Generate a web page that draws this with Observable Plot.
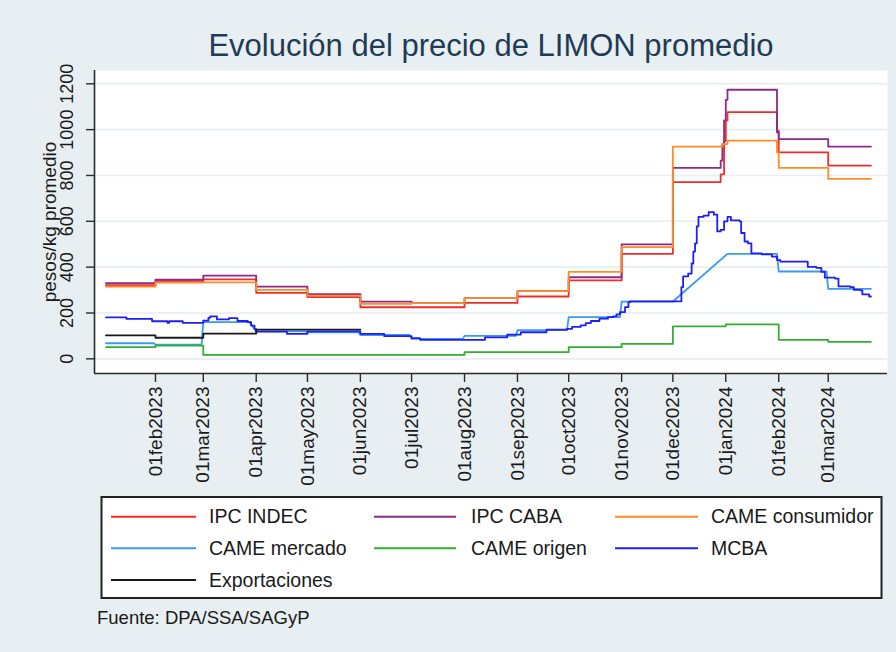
<!DOCTYPE html>
<html><head><meta charset="utf-8">
<script src="https://cdn.jsdelivr.net/npm/d3@7"></script>
<script src="https://cdn.jsdelivr.net/npm/@observablehq/plot@0.6"></script>
<style>
html,body{margin:0;padding:0;background:#e8eff2;}
#wrap{position:relative;width:896px;height:652px;background:#e8eff2;font-family:"Liberation Sans",Arial,sans-serif;overflow:hidden}
#chart{position:absolute;left:0;top:0}
#legend{position:absolute;left:0;top:0}
</style></head><body><div id="wrap"><div id="chart"></div><svg id="legend" width="896" height="652"></svg></div>
<script>
const title = "Evolución del precio de LIMON promedio";
const yTitle = "pesos/kg promedio";
const caption = "Fuente: DPA/SSA/SAGyP";
const seriesNames = ["IPC INDEC","IPC CABA","CAME consumidor","CAME mercado","CAME origen","MCBA","Exportaciones"];
const seriesColors = ["#f22b2b","#8b2a8b","#ff8c24","#3a9af2","#30b030","#1f1ff5","#1a1a1a"];
const yTicks = [0,200,400,600,800,1000,1200];
const xTickDates = ["2023-02-01","2023-03-01","2023-04-01","2023-05-01","2023-06-01","2023-07-01","2023-08-01","2023-09-01","2023-10-01","2023-11-01","2023-12-01","2024-01-01","2024-02-01","2024-03-01"];
const xTickLabels = ["01feb2023","01mar2023","01apr2023","01may2023","01jun2023","01jul2023","01aug2023","01sep2023","01oct2023","01nov2023","01dec2023","01jan2024","01feb2024","01mar2024"];
const xDomain = ["2022-12-27T07:00Z","2024-04-04T17:00Z"];
const yDomain = [-64, 1258];

// step series: [date of change, value]
const ipcIndec = [["2023-01-03",322],["2023-02-01",339],["2023-03-01",347],["2023-04-01",288],["2023-05-01",269],["2023-06-01",225],["2023-08-01",244],["2023-09-01",272],["2023-10-01",342],["2023-11-01",458],["2023-12-01",771],["2023-12-29",805],["2023-12-31",950],["2024-01-01",1040],["2024-01-02",1076],["2024-01-31",996],["2024-02-01",901],["2024-03-01",843],["2024-03-26",843]];
const ipcCaba = [["2023-01-03",330],["2023-02-01",345],["2023-03-01",363],["2023-04-01",315],["2023-05-01",282],["2023-06-01",250],["2023-07-01",243],["2023-08-01",265],["2023-09-01",295],["2023-10-01",356],["2023-11-01",499],["2023-12-01",833],["2023-12-29",865],["2023-12-30",937],["2023-12-31",1040],["2024-01-01",1130],["2024-01-02",1174],["2024-01-31",988],["2024-02-01",959],["2024-03-01",926],["2024-03-26",926]];
const cameConsumidor = [["2023-01-03",315],["2023-02-01",333],["2023-03-01",334],["2023-04-01",301],["2023-05-01",276],["2023-06-01",240],["2023-07-01",243],["2023-08-01",265],["2023-09-01",295],["2023-10-01",379],["2023-11-01",487],["2023-12-01",926],["2023-12-30",937],["2024-01-02",952],["2024-01-31",901],["2024-02-01",833],["2024-03-01",785],["2024-03-26",785]];
// linear series: breakpoints
const cameMercado = [["2023-01-03",68],["2023-01-31",68],["2023-02-01",62],["2023-02-28",62],["2023-03-01",160],["2023-03-28",160],["2023-04-01",120],["2023-04-30",120],["2023-05-01",116],["2023-05-31",116],["2023-06-01",104],["2023-06-30",104],["2023-07-01",87],["2023-07-31",87],["2023-08-01",100],["2023-08-31",100],["2023-09-01",125],["2023-09-30",125],["2023-10-01",182],["2023-10-31",182],["2023-11-01",250],["2023-12-01",250],["2024-01-02",458],["2024-01-31",458],["2024-02-01",381],["2024-02-29",381],["2024-03-01",305],["2024-03-26",305]];
const cameOrigen = [["2023-01-03",51],["2023-02-01",58],["2023-03-01",17],["2023-08-01",29],["2023-10-01",51],["2023-11-01",65],["2023-12-01",142],["2024-01-01",150],["2024-02-01",83],["2024-03-01",74],["2024-03-26",74]];
const mcba = [["2023-01-03",181],["2023-01-15",174],["2023-01-30",164],["2023-02-08",157],["2023-02-09",164],["2023-02-17",157],["2023-03-01",167],["2023-03-04",179],["2023-03-05",185],["2023-03-09",172],["2023-03-16",178],["2023-03-21",165],["2023-03-27",160],["2023-03-29",145],["2023-03-31",130],["2023-04-01",119],["2023-04-19",109],["2023-05-01",120],["2023-06-01",109],["2023-06-15",99],["2023-07-01",90],["2023-07-06",83],["2023-08-13",94],["2023-08-26",106],["2023-09-03",116],["2023-09-18",127],["2023-09-30",131],["2023-10-03",139],["2023-10-08",146],["2023-10-11",156],["2023-10-14",165],["2023-10-19",175],["2023-10-24",182],["2023-10-27",185],["2023-10-29",194],["2023-10-31",204],["2023-11-03",226],["2023-11-05",248],["2023-11-06",251],["2023-12-06",313],["2023-12-07",360],["2023-12-10",372],["2023-12-12",416],["2023-12-13",468],["2023-12-14",504],["2023-12-15",578],["2023-12-16",619],["2023-12-19",625],["2023-12-22",640],["2023-12-25",629],["2023-12-27",556],["2023-12-29",563],["2023-12-31",600],["2024-01-02",619],["2024-01-04",604],["2024-01-09",600],["2024-01-10",549],["2024-01-12",512],["2024-01-14",504],["2024-01-16",460],["2024-01-22",456],["2024-01-28",446],["2024-01-31",431],["2024-02-02",424],["2024-02-18",401],["2024-02-23",397],["2024-02-26",379],["2024-02-28",354],["2024-03-05",350],["2024-03-07",316],["2024-03-14",313],["2024-03-16",301],["2024-03-20",299],["2024-03-21",281],["2024-03-25",272],["2024-03-26",272]];
const exportaciones = [["2023-01-03",102],["2023-02-01",92],["2023-03-01",110],["2023-04-01",127],["2023-06-01",127]];

const parse = s => new Date(s.length === 10 ? s + "T00:00Z" : s);
const seriesData = [ipcIndec, ipcCaba, cameConsumidor, cameMercado, cameOrigen, mcba, exportaciones];
const seriesCurves = ["step-after","step-after","step-after","linear","step-after","step-after","step-after"];
const font = "Liberation Sans, Arial, sans-serif";
const axisColor = "#2a2a2a";

const lineMarks = seriesData.map((data, i) => Plot.line(data, {
  x: d => parse(d[0]), y: d => d[1], stroke: seriesColors[i], strokeWidth: 1.8, curve: seriesCurves[i]
}));

const chart = Plot.plot({
  width: 896, height: 497,
  marginLeft: 94, marginRight: 9, marginTop: 70, marginBottom: 124,
  style: {background: "transparent", fontFamily: font, overflow: "visible"},
  x: {type: "utc", domain: xDomain.map(parse), axis: null},
  y: {domain: yDomain, axis: null},
  marks: [
    Plot.frame({fill: "white", stroke: null}),
    Plot.gridY(yTicks, {stroke: "#e6eef1", strokeOpacity: 1, strokeWidth: 1.6}),
    ...lineMarks,
    Plot.ruleX([parse(xDomain[0])], {stroke: axisColor, strokeWidth: 1.6}),
    Plot.ruleY([yDomain[0]], {stroke: axisColor, strokeWidth: 1.6}),
    Plot.axisY(yTicks, {tickSize: 8, tickFormat: () => "", label: null, stroke: axisColor, strokeWidth: 1.4}),
    Plot.axisX(xTickDates.map(parse), {tickSize: 9, tickFormat: () => "", label: null, stroke: axisColor, strokeWidth: 1.4}),
    Plot.text(yTicks, {frameAnchor: "left", y: d => d, text: d => String(d), rotate: -90, textAnchor: "middle", lineAnchor: "bottom", dx: -22, fontSize: 18, fill: "#1a1a1a"}),
    Plot.text(xTickDates, {frameAnchor: "bottom", x: d => parse(d), text: (d, i) => xTickLabels[i], rotate: -90, textAnchor: "end", lineAnchor: "middle", dy: 13, fontSize: 19, fill: "#1a1a1a"}),
    Plot.text([yTitle], {frameAnchor: "left", rotate: -90, textAnchor: "middle", lineAnchor: "bottom", dx: -39, fontSize: 19, fill: "#1a1a1a"}),
    Plot.text([title], {frameAnchor: "top", textAnchor: "middle", lineAnchor: "bottom", dy: -15, fontSize: 31, fill: "#1f3b55"})
  ]
});
document.getElementById("chart").appendChild(chart);

// legend + caption
const lg = d3.select("#legend");
lg.append("rect").attr("x", 101.5).attr("y", 497).attr("width", 780).attr("height", 101)
  .attr("fill", "white").attr("stroke", "#222").attr("stroke-width", 2);
const colLine = [[111, 196], [374, 456], [615, 698]];
const colText = [209, 471, 711];
const rowY = [516.7, 548.3, 580];
seriesNames.forEach((name, i) => {
  const c = i % 3, r = Math.floor(i / 3);
  lg.append("line").attr("x1", colLine[c][0]).attr("x2", colLine[c][1])
    .attr("y1", rowY[r]).attr("y2", rowY[r]).attr("stroke", seriesColors[i]).attr("stroke-width", 2);
  lg.append("text").attr("x", colText[c]).attr("y", rowY[r] + 6.5).text(name)
    .attr("font-family", font).attr("font-size", 19.5).attr("fill", "#1a1a1a");
});
lg.append("text").attr("x", 97).attr("y", 624).text(caption)
  .attr("font-family", font).attr("font-size", 18.5).attr("fill", "#1a1a1a");
</script></body></html>
